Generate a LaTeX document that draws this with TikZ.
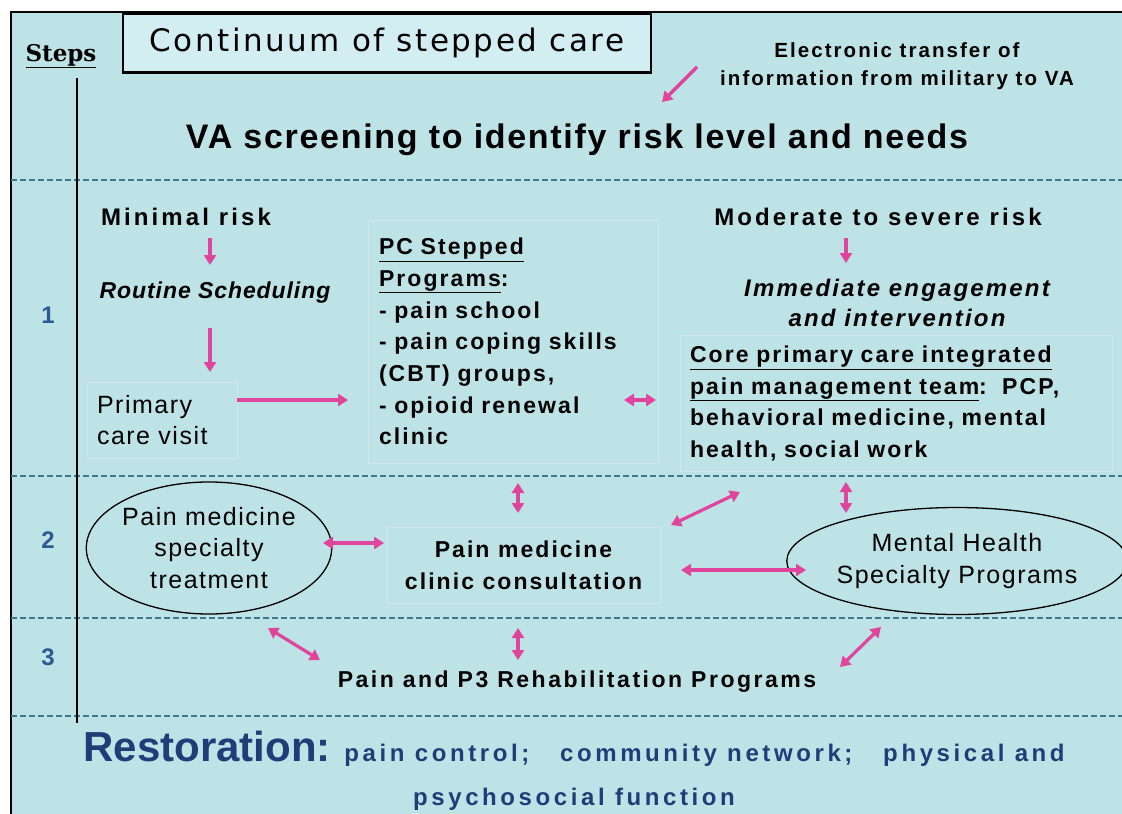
\documentclass[tikz,border=0pt]{standalone}
\usepackage{fontspec}
\setmainfont{Liberation Sans}
\newfontfamily\titlefont[LetterSpace=8]{DejaVu Sans}
\newfontfamily\stepsfont{DejaVu Serif}
\usetikzlibrary{arrows.meta,shapes.geometric}

\definecolor{panel}{HTML}{BEE3E7}
\definecolor{titlefill}{HTML}{D3EEF3}
\definecolor{boxline}{HTML}{D6E6F0}
\definecolor{dashcol}{HTML}{3F7888}
\definecolor{arrowpink}{HTML}{E0449C}
\definecolor{stepblue}{HTML}{2B5A94}
\definecolor{restblue}{HTML}{1F3E78}

\tikzset{
  pinkarrow/.style={draw=arrowpink, line width=3.2pt, -{Triangle[length=10pt,width=12pt]}},
  pinkboth/.style={draw=arrowpink, line width=3.2pt, {Triangle[length=10pt,width=12pt]}-{Triangle[length=10pt,width=12pt]}},
  stepline/.style={draw=dashcol, line width=1.1pt, dash pattern=on 6pt off 3pt},
  plainbox/.style={rectangle, draw=boxline, line width=0.8pt, align=left},
  oval/.style={ellipse, draw, line width=1.3pt, inner sep=0pt, align=center},
  heading/.style={font=\bfseries\fontsize{24}{30}\selectfont\addfontfeatures{LetterSpace=13}},
  bodybold/.style={font=\bfseries\fontsize{23}{31.7}\selectfont\addfontfeatures{LetterSpace=9}},
  bodyplain/.style={font=\fontsize{25}{31.5}\selectfont\addfontfeatures{LetterSpace=6}},
  stepnum/.style={font=\bfseries\fontsize{24}{26}\selectfont, text=stepblue},
}

\begin{document}
\begin{tikzpicture}[x=1pt,y=-1pt]

      \useasboundingbox (0,0) rectangle (1122,814);
      \fill[panel] (11,12) rectangle (1122,814);
      \draw[line width=2.5pt] (11,814) -- (11,12) -- (1122,12);

      \foreach \y in {180,476,618,716}
        \draw[stepline] (11,\y) -- (1122,\y);
      \draw[line width=2pt] (77,78) -- (77,723);

      \begin{scope}[every node/.style={inner sep=0pt}]
        \node[font=\stepsfont\bfseries\fontsize{23}{24}\selectfont] (steps) at (61,56) {\underline{Steps}};
        \node[draw, line width=2.5pt, fill=titlefill, minimum width=528pt, minimum height=59pt,
              font=\titlefont\fontsize{31}{33}\selectfont] (title) at (387,43) {Continuum of stepped care};
        \node[align=center, font=\bfseries\fontsize{20.5}{28}\selectfont\addfontfeatures{LetterSpace=10}] (etext) at (897,66)
          {Electronic transfer of\\information from military to VA};
        \node[font=\bfseries\fontsize{34}{36}\selectfont\addfontfeatures{LetterSpace=5}] (screen) at (577,140)
          {VA screening to identify risk level and needs};

        \node[stepnum] (n1) at (48,315) {1};
        \node[stepnum] (n2) at (48,540) {2};
        \node[stepnum] (n3) at (48,657) {3};

        \node[heading] (min) at (186,217) {Minimal risk};
        \node[font=\bfseries\itshape\fontsize{23}{30}\selectfont\addfontfeatures{LetterSpace=4}] (rout) at (215,293) {Routine Scheduling};
        \node[plainbox, bodyplain, minimum width=150pt, minimum height=76pt, text width=130pt, inner sep=10pt] (pcv) at (162,420)
          {Primary\\care visit};
        \node[plainbox, bodybold, minimum width=290pt, minimum height=243pt, text width=268pt, inner sep=11pt] (pcs) at (513,341.5)
          {\underline{PC Stepped}\\\underline{Programs}:\\- pain school\\- pain coping skills\\(CBT) groups,\\- opioid renewal\\clinic};

        \node[heading] (mod) at (878,217) {Moderate to severe risk};
        \node[align=center, font=\bfseries\itshape\fontsize{24}{30}\selectfont\addfontfeatures{LetterSpace=9}] (imm) at (897,303)
          {Immediate engagement\\and intervention};
        \node[plainbox, bodybold, minimum width=432pt, minimum height=133pt, text width=412pt, inner sep=10pt] (core) at (896,403.5)
          {\underline{Core primary care integrated}\\\underline{pain management team}:~~PCP,\\behavioral medicine, mental\\health, social work};

        \node[oval, bodyplain, minimum width=224pt, minimum height=132pt] (pmst) at (209,548)
          {Pain medicine\\specialty\\treatment};
        \node[plainbox, bodybold, align=center, minimum width=273pt, minimum height=76pt] (pmcc) at (523.5,565)
          {Pain medicine\\clinic consultation};
        \node[oval, bodyplain, minimum width=302pt, minimum height=107pt] (mhsp) at (957,561)
          {Mental Health\\Specialty Programs};

        \node[font=\bfseries\fontsize{23}{30}\selectfont\addfontfeatures{LetterSpace=11}] (p3) at (577,682)
          {Pain and P3 Rehabilitation Programs};

        \node[align=center, text=restblue, font=\bfseries\fontsize{24}{44}\selectfont\addfontfeatures{LetterSpace=15}] (rest) at (574,771)
          {{\fontsize{42}{44}\selectfont\addfontfeatures{LetterSpace=0}Restoration:} pain control;~~ community network;~~ physical and\\psychosocial function};
      \end{scope}

      \begin{scope}[every edge/.style={pinkarrow}]
        \path ([xshift=-200pt,yshift=-1pt]etext.center) edge ([xshift=85pt,yshift=38pt]screen.center);
        \path ([xshift=24pt,yshift=-21pt]min.center) edge ([xshift=-5pt,yshift=28pt]rout.center);
        \path ([xshift=-5pt,yshift=-35pt]rout.center) edge ([xshift=48pt,yshift=48pt]pcv.center);
        \path ([xshift=75pt,yshift=20pt]pcv.center) edge ([xshift=-165pt,yshift=-58.5pt]pcs.center);
        \path ([xshift=-32pt,yshift=-21pt]mod.center) edge ([xshift=-51pt,yshift=40pt]imm.center);
      \end{scope}

      \begin{scope}[every edge/.style={pinkboth}]
        \path ([xshift=111pt,yshift=-58.5pt]pcs.center) edge ([xshift=-240pt,yshift=3.5pt]core.center);
        \path ([xshift=5pt,yshift=-141.5pt]pcs.center) edge ([xshift=-5.5pt,yshift=52pt]pmcc.center);
        \path ([xshift=147.5pt,yshift=40pt]pmcc.center) edge ([xshift=-156pt,yshift=-88.5pt]core.center);
        \path ([xshift=-50pt,yshift=-78.5pt]core.center) edge ([xshift=-111pt,yshift=48pt]mhsp.center);
        \path ([xshift=114pt,yshift=5pt]pmst.center) edge ([xshift=-139.5pt,yshift=22pt]pmcc.center);
        \path ([xshift=157.5pt,yshift=-5pt]pmcc.center) edge ([xshift=-151pt,yshift=-9pt]mhsp.center);
        \path ([xshift=59pt,yshift=-80pt]pmst.center) edge ([xshift=-257pt,yshift=22pt]p3.center);
        \path ([xshift=-5.5pt,yshift=-63pt]pmcc.center) edge ([xshift=-59pt,yshift=22pt]p3.center);
        \path ([xshift=263pt,yshift=15pt]p3.center) edge ([xshift=-76pt,yshift=-66pt]mhsp.center);
      \end{scope}

\end{tikzpicture}
\end{document}
